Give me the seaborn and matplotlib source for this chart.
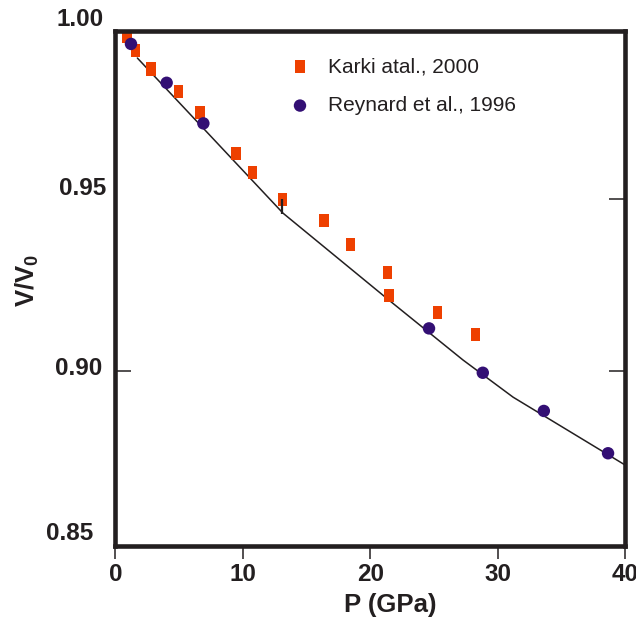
import matplotlib
matplotlib.use("Agg")
import matplotlib.pyplot as plt
from matplotlib import transforms
import pandas as pd
import seaborn as sns

# ---------------- data ----------------
karki_p = [0.92, 1.60, 2.80, 4.95, 6.65, 9.47, 10.78, 13.11, 16.38, 18.44,
           21.35, 21.48, 25.31, 28.29]
karki_v = [0.9972, 0.9931, 0.9878, 0.9812, 0.9751, 0.9633, 0.9578, 0.9499,
           0.9437, 0.9368, 0.9287, 0.9220, 0.9169, 0.9106]
karki_err_low = [0, 0, 0, 0, 0, 0, 0, 0.0042, 0, 0, 0, 0, 0, 0]

reynard_p = [1.23, 4.03, 6.91, 24.62, 28.84, 33.63, 38.67]
reynard_v = [0.9951, 0.9838, 0.9720, 0.9124, 0.8995, 0.8884, 0.8761]

fit_p = [1.73, 13.16, 21.48, 27.29, 31.22, 40.0]
fit_v = [0.9910, 0.9459, 0.9206, 0.9032, 0.8924, 0.8727]

karki_label = "Karki atal., 2000"
reynard_label = "Reynard et al., 1996"
x_ticks = [0, 10, 20, 30, 40]
x_tick_labels = ["0", "10", "20", "30", "40"]
y_label_vals = [1.00, 0.95, 0.90, 0.85]
y_label_text = ["1.00", "0.95", "0.90", "0.85"]
y_ticks_left = [0.90]
y_ticks_right = [0.95]
x_label = "P (GPa)"
y_label = "V/V$_0$"

# ---------------- style ----------------
INK = "#231F20"
ORANGE = "#EE4000"
PURPLE = "#330F74"
# per-label offsets (px) of the y tick-label texts: (right edge from spine, upward)
y_label_offsets = [(-12, 8), (-9, 10.5), (-13, 3), (-22, 10)]

sns.set_theme(style="white")
plt.rcParams["font.family"] = ["Liberation Sans", "DejaVu Sans"]
plt.rcParams["mathtext.fontset"] = "custom"
plt.rcParams["mathtext.rm"] = "Liberation Sans:bold"
plt.rcParams["mathtext.it"] = "Liberation Sans:bold"
plt.rcParams["mathtext.bf"] = "Liberation Sans:bold"
plt.rcParams["mathtext.default"] = "rm"

karki_df = pd.DataFrame({"P": karki_p, "V": karki_v, "err": karki_err_low})
reynard_df = pd.DataFrame({"P": reynard_p, "V": reynard_v})
fit_df = pd.DataFrame({"P": fit_p, "V": fit_v})

fig = plt.figure(figsize=(6.36, 6.20), dpi=100)
ax = fig.add_axes([0.1813, 0.1197, 0.8014, 0.830])
ax.set_facecolor("white")

rect = [(-0.35, -0.5), (0.35, -0.5), (0.35, 0.5), (-0.35, 0.5)]

sns.lineplot(data=fit_df, x="P", y="V", ax=ax, color=INK, lw=1.1,
             sort=False, estimator=None, legend=False, zorder=2)
sns.scatterplot(data=karki_df, x="P", y="V", ax=ax, marker=rect, s=90,
                color=ORANGE, edgecolor="none", linewidth=0,
                label=karki_label, zorder=3)
sns.scatterplot(data=reynard_df, x="P", y="V", ax=ax, marker="o", s=80,
                color=PURPLE, edgecolor="none", linewidth=0,
                label=reynard_label, zorder=3)

eb = karki_df[karki_df["err"] > 0]
ax.errorbar(eb["P"], eb["V"], yerr=[eb["err"], [0] * len(eb)], fmt="none",
            ecolor=INK, elinewidth=1.6, capsize=0, zorder=4)

ax.set_xlim(0, 40)
ax.set_ylim(0.8492, 0.9988)

for s in ax.spines.values():
    s.set_visible(True)
    s.set_linewidth(3.3)
    s.set_color(INK)
    s.set_zorder(5)

ax.set_xticks(x_ticks)
ax.set_xticklabels(x_tick_labels, fontsize=17.5, fontweight="bold", color=INK)
ax.tick_params(axis="x", which="major", bottom=True, top=False,
               direction="out", length=9, width=1.1, color=INK, pad=3.5)

ax.set_yticks(y_ticks_left)
ax.set_yticks(y_ticks_right, minor=True)
ax.set_yticklabels([])
ax.tick_params(axis="y", which="major", left=True, right=True,
               direction="in", length=11.5, width=1.1, color=INK,
               labelleft=False)
ax.tick_params(axis="y", which="minor", left=False, right=True,
               direction="in", length=11.5, width=1.1, color=INK)

blend = transforms.blended_transform_factory(ax.transAxes, ax.transData)
for val, txt, (dx, dy) in zip(y_label_vals, y_label_text, y_label_offsets):
    tr = blend + transforms.ScaledTranslation(dx / 100, dy / 100,
                                              fig.dpi_scale_trans)
    ax.text(0, val, txt, transform=tr, ha="right", va="center",
            fontsize=17.5, fontweight="bold", color=INK, clip_on=False)

ax.set_xlabel(x_label, fontsize=18.5, fontweight="bold", color=INK)
ax.xaxis.set_label_coords(0.540, -0.0914)
ax.set_ylabel(y_label, fontsize=18.5, fontweight="bold", color=INK)
ax.yaxis.set_label_coords(-0.146, 0.5165)

ax.legend(loc="upper left", bbox_to_anchor=(0.4553, 0.908),
          bbox_transform=fig.transFigure, frameon=False, fontsize=15,
          handlelength=1.0, handletextpad=0.85, labelspacing=0.96,
          borderpad=0, borderaxespad=0, labelcolor=INK)

fig.savefig("out.png", dpi=100, facecolor="white")
